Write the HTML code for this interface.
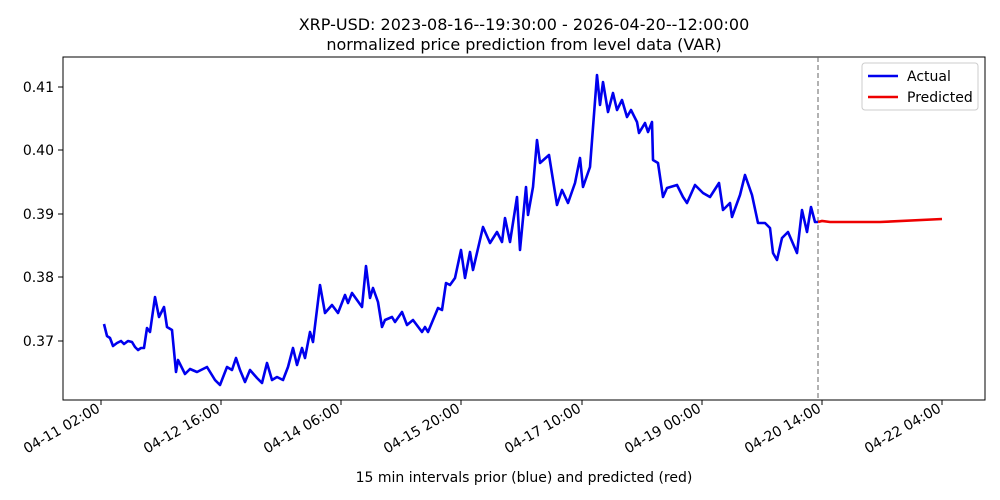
<!DOCTYPE html>
<html><head><meta charset="utf-8"><style>body{margin:0;background:#fff}svg{display:block;font-family:"DejaVu Sans","Liberation Sans",sans-serif}</style></head><body>
<svg width="1000" height="500" xmlns="http://www.w3.org/2000/svg">
<text x="524" y="30" font-size="16" text-anchor="middle">XRP-USD: 2023-08-16--19:30:00 - 2026-04-20--12:00:00</text>
<text x="524" y="50" font-size="16" text-anchor="middle">normalized price prediction from level data (VAR)</text>
<rect x="63" y="57" width="922" height="343" fill="none" stroke="#000" stroke-width="1"/>
<g font-size="14" text-anchor="end">
<line x1="58" y1="87" x2="63" y2="87" stroke="#000"/><text x="54" y="92">0.41</text>
<line x1="58" y1="150" x2="63" y2="150" stroke="#000"/><text x="54" y="155">0.40</text>
<line x1="58" y1="214" x2="63" y2="214" stroke="#000"/><text x="54" y="219">0.39</text>
<line x1="58" y1="277" x2="63" y2="277" stroke="#000"/><text x="54" y="282">0.38</text>
<line x1="58" y1="341" x2="63" y2="341" stroke="#000"/><text x="54" y="346">0.37</text>
</g>
<g stroke="#000">
<line x1="101" y1="400" x2="101" y2="405"/><line x1="221" y1="400" x2="221" y2="405"/><line x1="341" y1="400" x2="341" y2="405"/><line x1="461" y1="400" x2="461" y2="405"/><line x1="582" y1="400" x2="582" y2="405"/><line x1="702" y1="400" x2="702" y2="405"/><line x1="822" y1="400" x2="822" y2="405"/><line x1="942" y1="400" x2="942" y2="405"/>
</g>
<g font-size="14" text-anchor="end">
<text transform="translate(101,411) rotate(-30)">04-11 02:00</text>
<text transform="translate(221,411) rotate(-30)">04-12 16:00</text>
<text transform="translate(341,411) rotate(-30)">04-14 06:00</text>
<text transform="translate(461,411) rotate(-30)">04-15 20:00</text>
<text transform="translate(582,411) rotate(-30)">04-17 10:00</text>
<text transform="translate(702,411) rotate(-30)">04-19 00:00</text>
<text transform="translate(822,411) rotate(-30)">04-20 14:00</text>
<text transform="translate(942,411) rotate(-30)">04-22 04:00</text>
</g>
<text x="524" y="482" font-size="14" text-anchor="middle">15 min intervals prior (blue) and predicted (red)</text>
<line x1="818" y1="57" x2="818" y2="400" stroke="#666" stroke-dasharray="5,3"/>
<polyline fill="none" stroke="#0000ee" stroke-width="2.6" stroke-linejoin="round" points="104,324 107,336 110,338 113,346 117,343 121,341 124,344 128,341 132,342 135,347 138,350 141,348 144,348 147,328 150,332 155,297 159,317 164,307 167,327 172,330 176,372 178,360 185,374 190,369 197,372 207,367 215,380 220,385 227,367 232,370 236,358 240,370 245,382 250,370 257,378 262,383 267,363 272,380 277,377 283,380 288,367 293,348 297,365 302,348 305,358 310,332 313,342 320,285 325,313 332,305 338,313 345,295 348,303 352,293 362,307 366,266 370,298 373,288 378,302 382,327 385,320 392,317 395,322 402,312 407,325 413,320 422,332 425,327 428,332 433,320 438,308 442,310 446,283 450,285 455,278 461,250 465,278 470,252 473,270 483,227 490,243 497,232 502,242 505,218 510,242 517,197 520,250 526,187 528,215 533,187 537,140 540,163 549,155 557,205 562,190 568,203 575,183 580,158 583,187 590,167 597,75 600,105 603,82 608,112 613,93 617,110 622,100 627,117 631,110 637,122 639,133 645,123 648,132 652,122 653,160 658,163 663,197 667,188 677,185 683,197 687,203 695,185 703,193 710,197 719,183 723,210 730,203 732,217 740,195 745,175 752,195 758,223 765,223 770,228 773,253 777,260 782,238 788,232 797,253 802,210 807,232 811,207 815,222 818,222"/>
<polyline fill="none" stroke="#ee0000" stroke-width="2.6" points="818,222 822,221 830,222 880,222 942,219"/>
<rect x="862" y="63" width="116" height="47" fill="#fff" stroke="#ccc" rx="3"/>
<line x1="868" y1="76" x2="898" y2="76" stroke="#0000ee" stroke-width="2.6"/>
<text x="907" y="81" font-size="14">Actual</text>
<line x1="868" y1="97" x2="898" y2="97" stroke="#ee0000" stroke-width="2.6"/>
<text x="907" y="102" font-size="14">Predicted</text>
</svg>
</body></html>
